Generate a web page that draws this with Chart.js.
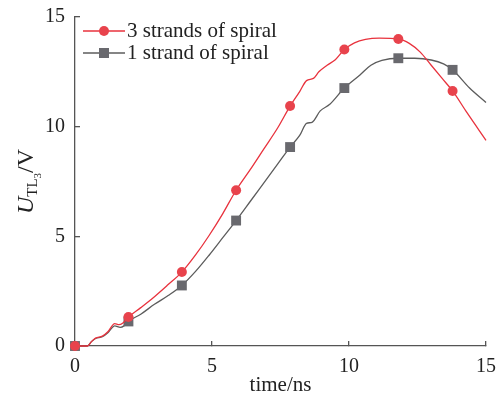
<!DOCTYPE html>
<html>
<head>
<meta charset="utf-8">
<script src="https://cdn.jsdelivr.net/npm/chart.js@4.4.1/dist/chart.umd.min.js"></script>
<style>
  html, body { margin: 0; padding: 0; background: #fff; }
</style>
</head>
<body>
<canvas id="voltChart" width="496" height="398"></canvas>
<script>
// series labels
const seriesNames = ['3 strands of spiral', '1 strand of spiral'];

// 3 strands (red), time in ns / voltage in V
const redTime = [0, 0.45, 0.6, 0.75, 1.0, 1.2, 1.45, 1.6, 1.75, 1.95, 2.4, 2.9, 3.4, 3.9, 4.4, 4.9, 5.4, 5.88,
  6.4, 6.9, 7.4, 7.85, 8.2, 8.45, 8.7, 8.9, 9.2, 9.5, 9.83, 10.2, 10.6, 11.1, 11.8, 12.2, 12.6, 13.0, 13.4, 13.78, 14.3, 15];
const redVolt = [0, 0, 0.2, 0.36, 0.45, 0.65, 1.02, 0.97, 1.05, 1.32, 1.75, 2.25, 2.8, 3.37, 4.15, 5.05, 6.05, 7.1,
  8.05, 9.0, 9.95, 10.94, 11.6, 12.1, 12.2, 12.5, 12.8, 13.05, 13.52, 13.82, 13.98, 14.04, 14.0, 13.8, 13.4, 12.8, 12.2, 11.63, 10.65, 9.38];

// 1 strand (gray)
const grayTime = [0, 0.45, 0.6, 0.75, 1.0, 1.2, 1.45, 1.65, 1.8, 1.95, 2.4, 2.9, 3.4, 3.9, 4.4, 4.9, 5.4, 5.88,
  6.4, 6.9, 7.4, 7.85, 8.2, 8.45, 8.65, 8.95, 9.3, 9.83, 10.4, 10.8, 11.2, 11.8, 12.4, 13.0, 13.45, 13.78, 14.4, 15];
const grayVolt = [0, 0, 0.2, 0.34, 0.42, 0.6, 0.92, 0.85, 0.93, 1.12, 1.45, 1.9, 2.3, 2.76, 3.4, 4.15, 4.95, 5.72,
  6.6, 7.45, 8.3, 9.07, 9.6, 10.15, 10.2, 10.72, 11.02, 11.76, 12.36, 12.8, 13.02, 13.12, 13.12, 13.04, 12.86, 12.59, 11.76, 11.1];

// times where the symbols sit
const markerTime = [0, 1.95, 3.9, 5.88, 7.85, 9.83, 11.8, 13.78];

const xTicks = [0, 5, 10, 15];
const yTicks = [0, 5, 10, 15];

const RED = '#e8323d';
const RED_MARK = '#e8434c';
const GRAY = '#5c5c5c';
const GRAY_MARK = '#69696e';
const AXIS = '#555555';
const FONT = '"Liberation Serif", "Times New Roman", serif';

const toPoints = (xs, ys) => xs.map((x, i) => ({ x: x, y: ys[i] }));
const markersOf = (xs, ys) => markerTime.map(t => ({ x: t, y: ys[xs.indexOf(t)] }));

// legend + y title drawn by hand (subscripts, line-through symbols)
const extrasPlugin = {
  id: 'extras',
  afterDraw(chart) {
    const ctx = chart.ctx;
    const area = chart.chartArea;
    ctx.save();

    // legend
    const items = [
      { color: RED, mark: RED_MARK, shape: 'circle', y: area.top + 14 },
      { color: GRAY, mark: GRAY_MARK, shape: 'square', y: area.top + 36 }
    ];
    items.forEach((it, i) => {
      const x0 = area.left + 8, x1 = area.left + 50, xm = (x0 + x1) / 2;
      ctx.strokeStyle = it.color;
      ctx.lineWidth = 1.3;
      ctx.beginPath();
      ctx.moveTo(x0, it.y);
      ctx.lineTo(x1, it.y);
      ctx.stroke();
      ctx.fillStyle = it.mark;
      if (it.shape === 'circle') {
        ctx.beginPath();
        ctx.arc(xm, it.y, 5, 0, Math.PI * 2);
        ctx.fill();
      } else {
        ctx.fillRect(xm - 5, it.y - 5, 10, 10);
      }
      ctx.fillStyle = '#222';
      ctx.font = '21px ' + FONT;
      ctx.textBaseline = 'middle';
      ctx.textAlign = 'left';
      ctx.fillText(seriesNames[i], x1 + 2, it.y);
    });

    // y axis title: U_{TL_3}/V, rotated
    const parts = [
      { text: 'U', font: 'italic 24px ' + FONT, dy: 0 },
      { text: 'TL', font: '15px ' + FONT, dy: 4 },
      { text: '3', font: '11px ' + FONT, dy: 8 },
      { text: '/V', font: '24px ' + FONT, dy: 0 }
    ];
    let total = 0;
    parts.forEach(p => { ctx.font = p.font; p.w = ctx.measureText(p.text).width; total += p.w; });
    ctx.translate(33, (area.top + area.bottom) / 2);
    ctx.rotate(-Math.PI / 2);
    ctx.textBaseline = 'alphabetic';
    ctx.textAlign = 'left';
    ctx.fillStyle = '#222';
    let cx = -total / 2;
    parts.forEach(p => {
      ctx.font = p.font;
      ctx.fillText(p.text, cx, p.dy);
      cx += p.w;
    });
    ctx.restore();
  }
};

const ctx = document.getElementById('voltChart').getContext('2d');
const voltChart = new Chart(ctx, {
  type: 'line',
  data: {
    datasets: [
      {
        label: seriesNames[0] + ' markers',
        data: markersOf(redTime, redVolt),
        showLine: false,
        pointStyle: 'circle',
        pointRadius: 5,
        pointBackgroundColor: RED_MARK,
        pointBorderWidth: 0,
        clip: false
      },
      {
        label: seriesNames[0],
        data: toPoints(redTime, redVolt),
        borderColor: RED,
        borderWidth: 1.3,
        pointRadius: 0,
        cubicInterpolationMode: 'monotone',
        clip: false
      },
      {
        label: seriesNames[1] + ' markers',
        data: markersOf(grayTime, grayVolt),
        showLine: false,
        pointStyle: 'rect',
        pointRadius: 7,
        pointBackgroundColor: GRAY_MARK,
        pointBorderWidth: 0,
        clip: false
      },
      {
        label: seriesNames[1],
        data: toPoints(grayTime, grayVolt),
        borderColor: GRAY,
        borderWidth: 1.3,
        pointRadius: 0,
        cubicInterpolationMode: 'monotone',
        clip: false
      }
    ]
  },
  options: {
    responsive: false,
    animation: false,
    devicePixelRatio: 1,
    layout: { padding: { top: 17, right: 10, left: 0, bottom: 0 } },
    plugins: {
      legend: { display: false },
      tooltip: { enabled: false }
    },
    scales: {
      x: {
        type: 'linear',
        min: 0,
        max: 15,
        afterBuildTicks: s => { s.ticks = xTicks.map(v => ({ value: v })); },
        afterFit: s => { s.height = 52; s.paddingLeft = 0; s.paddingRight = 0; },
        grid: { drawOnChartArea: false, tickLength: -5, color: AXIS, lineWidth: 1.3 },
        border: { color: AXIS, width: 1.3 },
        ticks: { padding: 14, color: '#222', font: { family: FONT, size: 20 } },
        title: { display: true, text: 'time/ns', color: '#222', padding: { top: -5, bottom: 0 }, font: { family: FONT, size: 21 } }
      },
      y: {
        type: 'linear',
        min: 0,
        max: 15,
        afterBuildTicks: s => { s.ticks = yTicks.map(v => ({ value: v })); },
        afterFit: s => { s.width = 75; s.paddingTop = 0; s.paddingBottom = 0; },
        grid: { drawOnChartArea: false, tickLength: -5, color: AXIS, lineWidth: 1.3 },
        border: { color: AXIS, width: 1.3 },
        ticks: { padding: 15, color: '#222', font: { family: FONT, size: 20 } }
      }
    }
  },
  plugins: [extrasPlugin]
});
</script>
</body>
</html>
